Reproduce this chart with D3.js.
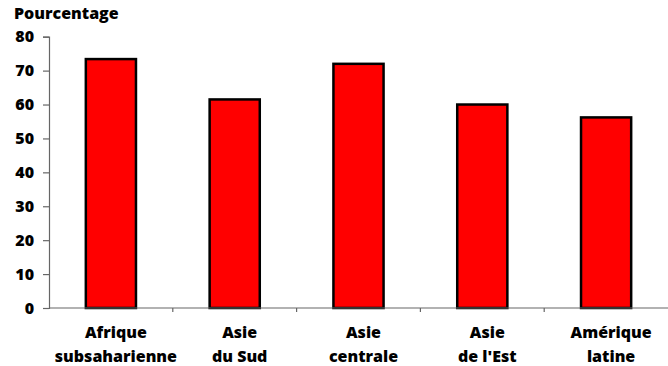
<!DOCTYPE html>
<html>
<head>
<meta charset="utf-8">
<script src="https://cdn.jsdelivr.net/npm/d3@7"></script>
<style>
  body { margin: 0; background: #fff; }
  text { font-family: "Open Sans", sans-serif; font-weight: 800; fill: #000; }
</style>
</head>
<body>
<svg id="chart" width="668" height="366"></svg>
<script>
// Share of population (%) by region
const categories = [
  ["Afrique", "subsaharienne"],
  ["Asie", "du Sud"],
  ["Asie", "centrale"],
  ["Asie", "de l'Est"],
  ["Amérique", "latine"]
];
const values = [73.4, 61.5, 72.0, 60.0, 56.2];
const yTicks = [0, 10, 20, 30, 40, 50, 60, 70, 80];
const yTitle = "Pourcentage";

const FONT = "'Open Sans', sans-serif";
const svg = d3.select("#chart");
const margin = { left: 49, right: 0 };
const W = 668;

const x = d3.scaleBand()
  .domain(d3.range(categories.length))
  .range([margin.left, W - margin.right])
  .paddingInner(0)
  .paddingOuter(0);

const y = d3.scaleLinear()
  .domain([0, 80])
  .range([308, 36.7]);

const barW = x.bandwidth() * 0.405;

// bars
svg.append("g").selectAll("rect")
  .data(values)
  .join("rect")
  .attr("x", (d, i) => x(i) + x.bandwidth() / 2 - barW / 2)
  .attr("y", d => y(d))
  .attr("width", barW)
  .attr("height", d => y(0) - y(d))
  .attr("fill", "#ff0000")
  .attr("stroke", "#000")
  .attr("stroke-width", 2.5);

// y axis
const yAxis = svg.append("g")
  .attr("transform", `translate(${margin.left},0)`)
  .call(d3.axisLeft(y).tickValues(yTicks).tickSize(6).tickPadding(9).tickFormat(d3.format("d")));
yAxis.select(".domain").attr("stroke", "#666").attr("stroke-width", 1.2);
yAxis.selectAll(".tick line").attr("stroke", "#666").attr("stroke-width", 1.2);
yAxis.selectAll(".tick text")
  .style("font-family", FONT)
  .style("font-weight", "800")
  .style("font-size", "16px")
  .attr("fill", "#000");

// x baseline with ticks between categories
const boundaries = d3.range(1, categories.length).map(i => x(i));
const xg = svg.append("g");
xg.append("line")
  .attr("x1", margin.left).attr("x2", W)
  .attr("y1", y(0)).attr("y2", y(0))
  .attr("stroke", "#666").attr("stroke-width", 1.2);
xg.selectAll("line.tk")
  .data(boundaries)
  .join("line")
  .attr("class", "tk")
  .attr("x1", d => d).attr("x2", d => d)
  .attr("y1", y(0)).attr("y2", y(0) + 4)
  .attr("stroke", "#666").attr("stroke-width", 1.2);

// category labels (two lines each)
const lab = svg.append("g").selectAll("text")
  .data(categories)
  .join("text")
  .attr("text-anchor", "middle")
  .style("font-size", "16px");
lab.each(function(d, i) {
  const t = d3.select(this);
  const cx = x(i) + x.bandwidth() / 2 + 5;
  d.forEach((line, k) => {
    t.append("tspan")
      .attr("x", cx)
      .attr("y", 338 + k * 23.5)
      .text(line);
  });
});

// axis title
svg.append("text")
  .attr("x", 14)
  .attr("y", 19)
  .style("font-size", "16px")
  .text(yTitle);
</script>
</body>
</html>
